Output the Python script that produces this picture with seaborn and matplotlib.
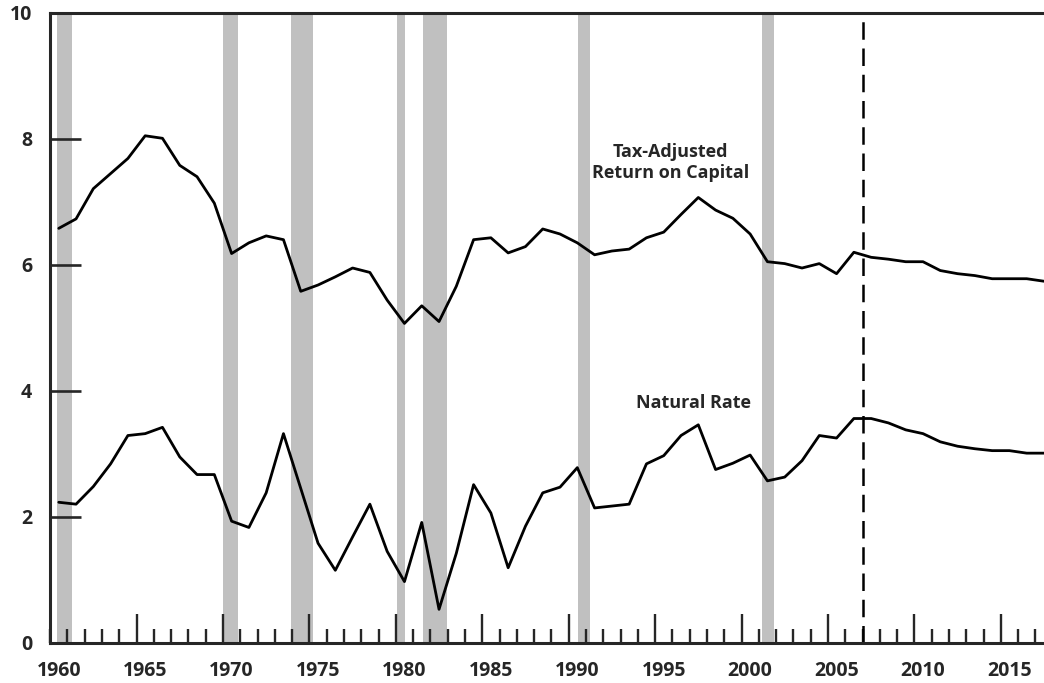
import numpy as np
import pandas as pd
import matplotlib.pyplot as plt
import seaborn as sns

# Datos (porcentaje)
years = np.arange(1960, 2018)
tax_adjusted = [6.58, 6.73, 7.21, 7.45, 7.69, 8.05, 8.01, 7.58, 7.40, 6.98,
                6.18, 6.35, 6.46, 6.40, 5.58, 5.68, 5.81, 5.95, 5.88, 5.44,
                5.07, 5.35, 5.10, 5.66, 6.40, 6.43, 6.19, 6.29, 6.57, 6.49,
                6.35, 6.16, 6.22, 6.25, 6.43, 6.52, 6.80, 7.07, 6.87, 6.74,
                6.49, 6.05, 6.02, 5.95, 6.02, 5.86, 6.20, 6.12, 6.09, 6.05,
                6.05, 5.91, 5.86, 5.83, 5.78, 5.78, 5.78, 5.74]
natural_rate = [2.23, 2.20, 2.48, 2.84, 3.29, 3.32, 3.42, 2.95, 2.67, 2.67,
                1.93, 1.83, 2.38, 3.32, 2.45, 1.58, 1.15, 1.68, 2.20, 1.45,
                0.97, 1.91, 0.53, 1.42, 2.51, 2.06, 1.19, 1.85, 2.38, 2.47,
                2.78, 2.14, 2.17, 2.20, 2.84, 2.97, 3.29, 3.46, 2.75, 2.85,
                2.98, 2.57, 2.63, 2.89, 3.29, 3.25, 3.56, 3.56, 3.49, 3.38,
                3.32, 3.19, 3.12, 3.08, 3.05, 3.05, 3.01, 3.01]

# Recesiones (barras grises)
rec_start = [1959.88, 1969.52, 1973.45, 1979.56, 1981.06, 1990.06, 2000.68]
rec_end = [1960.75, 1970.39, 1974.71, 1980.02, 1982.45, 1990.76, 2001.37]
forecast_start = 2006.5

label_years = np.arange(1960, 2020, 5)

df = pd.DataFrame({'year': years, 'tax': tax_adjusted, 'natural': natural_rate})

sns.set_style('ticks')
plt.rcParams['font.family'] = ['Open Sans', 'DejaVu Sans']
plt.rcParams['font.weight'] = 'bold'

fig, ax = plt.subplots(figsize=(10.44, 6.83), dpi=100)
fig.subplots_adjust(left=0.048, right=1.0, bottom=0.059, top=0.981)

for s, e in zip(rec_start, rec_end):
    ax.axvspan(s, e, color='#c0c0c0', lw=0, zorder=0)

sns.lineplot(data=df, x='year', y='tax', color='black', lw=2.0, ax=ax)
sns.lineplot(data=df, x='year', y='natural', color='black', lw=2.0, ax=ax)

ax.axvline(forecast_start, color='black', lw=1.8, linestyle=(0, (7, 3.5)))

ax.text(1995.4, 7.63, 'Tax-Adjusted\nReturn on Capital', ha='center', va='center',
        fontsize=13, fontweight='bold', linespacing=1.2)
ax.text(1996.7, 3.81, 'Natural Rate', ha='center', va='center',
        fontsize=13, fontweight='bold')

ax.set_xlim(1959.5, 2017)
ax.set_ylim(0, 10)
ax.set_xlabel('')
ax.set_ylabel('')

# marcas del eje x en los límites de cada año, etiquetas centradas en el año
ax.set_xticks(label_years[1:] - 0.5)
ax.set_xticks(years - 0.5, minor=True)
ax.tick_params(axis='x', which='major', direction='in', length=21, width=1.7,
               labelbottom=False)
ax.tick_params(axis='x', which='minor', direction='in', length=10, width=1.7)

sec = ax.secondary_xaxis('bottom')
sec.set_xticks(label_years)
sec.set_xticklabels([str(y) for y in label_years])
sec.tick_params(length=0, pad=13, labelsize=14)
sec.spines['bottom'].set_visible(False)
for t in sec.get_xticklabels():
    t.set_fontweight('bold')

ax.set_yticks(np.arange(0, 11, 2))
ax.tick_params(axis='y', direction='in', length=22, width=1.9, pad=13, labelsize=14)
for t in ax.get_yticklabels():
    t.set_fontweight('bold')

for side in ['left', 'bottom', 'top']:
    ax.spines[side].set_linewidth(2.2)
ax.spines['right'].set_visible(False)

plt.savefig('out.png', dpi=100)
